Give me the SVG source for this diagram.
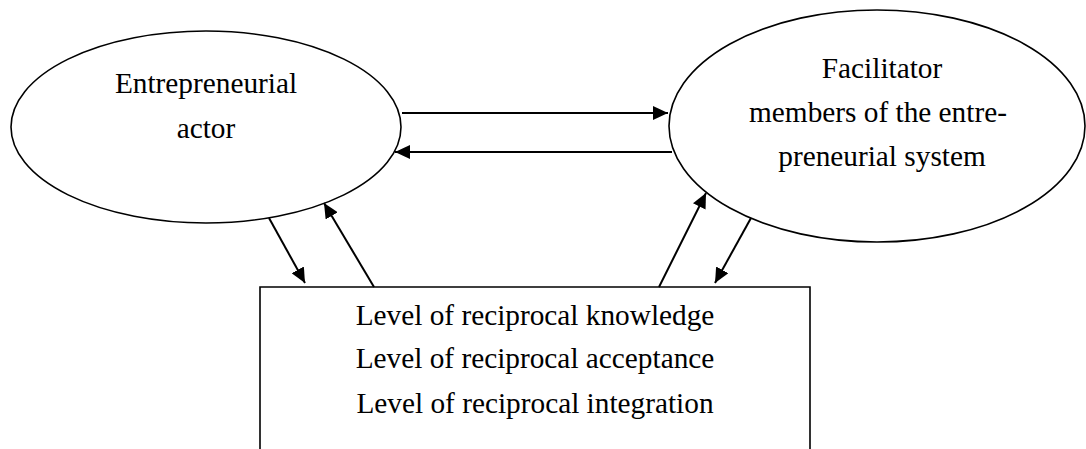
<svg xmlns="http://www.w3.org/2000/svg" width="1086" height="449" viewBox="0 0 1086 449">
  <style>
    .shape { fill: #ffffff; stroke: #000000; stroke-width: 1.6; }
    .label { font-family: "Liberation Serif", "Times New Roman", serif; font-size: 29.3px; fill: #000000; text-anchor: middle; }
    .link { fill: none; stroke: #000000; stroke-width: 2; marker-end: url(#arrow); }
  </style>
  <defs>
    <marker id="arrow" markerUnits="userSpaceOnUse" markerWidth="16" markerHeight="14" refX="15" refY="7" orient="auto">
      <path d="M0,0 L15,7 L0,14 Z" fill="#000000"/>
    </marker>
  </defs>
  <rect width="1086" height="449" fill="#ffffff"/>

  <g id="entrepreneurial-actor">
    <ellipse class="shape" cx="206" cy="127" rx="195" ry="96"/>
    <text class="label" x="206" y="93">Entrepreneurial</text>
    <text class="label" x="206" y="138">actor</text>
  </g>

  <g id="facilitator-members">
    <ellipse class="shape" cx="877" cy="126" rx="208" ry="116"/>
    <text class="label" x="882" y="78">Facilitator</text>
    <text class="label" x="878" y="122">members of the entre-</text>
    <text class="label" x="882" y="166">preneurial system</text>
  </g>

  <g id="reciprocal-levels">
    <path class="shape" d="M260,449 L260,287 L810,287 L810,449"/>
    <text class="label" x="535" y="325">Level of reciprocal knowledge</text>
    <text class="label" x="535" y="368">Level of reciprocal acceptance</text>
    <text class="label" x="535" y="413">Level of reciprocal integration</text>
  </g>

  <g id="connectors">
    <line class="link" x1="402" y1="113" x2="668" y2="113"/>
    <line class="link" x1="672" y1="152" x2="395" y2="152"/>
    <line class="link" x1="269" y1="218" x2="305" y2="283"/>
    <line class="link" x1="374" y1="287" x2="324" y2="203"/>
    <line class="link" x1="659" y1="287" x2="706" y2="193"/>
    <line class="link" x1="751" y1="218" x2="715" y2="283"/>
  </g>
</svg>
